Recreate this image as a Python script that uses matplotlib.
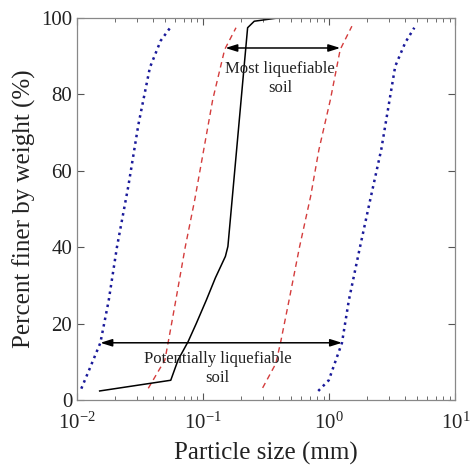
import matplotlib.pyplot as plt

plt.rcParams['font.family'] = ['Liberation Serif', 'DejaVu Serif']
plt.rcParams['mathtext.fontset'] = 'stix'

# curve data (particle size in mm, percent finer)
blue_left_x = [0.0108, 0.0125, 0.0153, 0.0178, 0.0207, 0.0255, 0.0306, 0.0378, 0.046, 0.055]
blue_left_y = [3.0, 8.0, 15.0, 26.0, 40.0, 56.0, 72.0, 87.0, 94.0, 97.5]
blue_right_x = [0.817, 0.99, 1.26, 1.43, 1.75, 2.11, 2.58, 3.33, 4.0, 4.72]
blue_right_y = [2.4, 5.2, 15.0, 26.2, 40.0, 52.4, 65.5, 87.3, 93.5, 97.4]
red_left_x = [0.0367, 0.0497, 0.0544, 0.0607, 0.072, 0.0857, 0.119, 0.148, 0.182]
red_left_y = [3.1, 10.5, 17.5, 26.2, 40.0, 52.4, 78.6, 91.7, 97.4]
red_right_x = [0.296, 0.377, 0.412, 0.48, 0.58, 0.711, 0.827, 1.02, 1.22, 1.51]
red_right_y = [3.2, 9.6, 15.3, 26.2, 40.0, 53.3, 65.5, 78.6, 91.7, 97.8]
black_x = [0.0151, 0.0553, 0.0632, 0.0759, 0.088, 0.106, 0.125, 0.150, 0.157, 0.225, 0.254, 0.40]
black_y = [2.4, 5.2, 10.5, 15.3, 20.0, 26.2, 32.0, 37.6, 40.2, 97.4, 99.1, 100.0]

fig = plt.figure(figsize=(4.7, 4.68), dpi=100)
ax = fig.add_axes([0.164, 0.145, 0.805, 0.817])

ax.plot(blue_left_x, blue_left_y, color='#1a1a9a', linestyle=':', linewidth=1.8)
ax.plot(blue_right_x, blue_right_y, color='#1a1a9a', linestyle=':', linewidth=1.8)
ax.plot(red_left_x, red_left_y, color='#d43c3c', linestyle='--', linewidth=1, dashes=(4, 3))
ax.plot(red_right_x, red_right_y, color='#d43c3c', linestyle='--', linewidth=1, dashes=(4, 3))
ax.plot(black_x, black_y, color='black', linewidth=1.1)

arrow = dict(arrowstyle='<|-|>,head_length=0.7,head_width=0.22', color='black',
             lw=1.1, shrinkA=0, shrinkB=0)
ax.annotate('', xy=(0.0153, 15), xytext=(1.26, 15), arrowprops=arrow)
ax.annotate('', xy=(0.150, 92.1), xytext=(1.22, 92.1), arrowprops=arrow)

ax.text(0.130, 8.2, 'Potentially liquefiable\nsoil', ha='center', va='center',
        fontsize=12, color='#222222', linespacing=1.25)
ax.text(0.407, 84.1, 'Most liquefiable\nsoil', ha='center', va='center',
        fontsize=12, color='#222222', linespacing=1.25)

ax.set_xscale('log')
ax.set_xlim(0.01, 10)
ax.set_ylim(0, 100)
ax.set_yticks([0, 20, 40, 60, 80, 100])
ax.set_xlabel('Particle size (mm)', fontsize=18, color='#222222', labelpad=6)
ax.set_ylabel('Percent finer by weight (%)', fontsize=18, color='#222222', labelpad=4)

ax.tick_params(which='both', direction='in', top=True, right=True, colors='#555555',
               labelcolor='#222222', labelsize=15)
ax.tick_params(axis='x', which='major', pad=9)
ax.tick_params(which='major', length=5)
ax.tick_params(which='minor', length=3)
for s in ax.spines.values():
    s.set_color('#888888')
    s.set_linewidth(0.9)

fig.savefig('out.png', dpi=100)
